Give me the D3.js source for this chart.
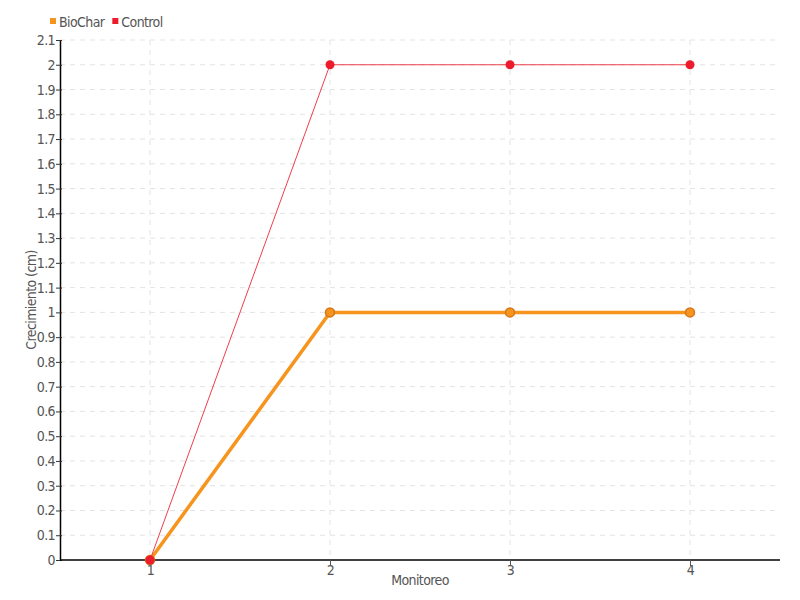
<!DOCTYPE html>
<html><head><meta charset="utf-8">
<script src="https://cdn.jsdelivr.net/npm/d3@7"></script>
<style>
body{margin:0;background:#fff;}
text{font-family:"DejaVu Sans Condensed","Liberation Sans Narrow","Roboto",sans-serif;letter-spacing:-0.6px;}
</style></head>
<body><svg id="c" width="800" height="600"></svg>
<script>
const categories = ["1","2","3","4"];
const seriesNames = ["BioChar","Control"];
const biocharValues = [0,1,1,1];
const controlValues = [0,2,2,2];
const yTicks = [0,0.1,0.2,0.3,0.4,0.5,0.6,0.7,0.8,0.9,1,1.1,1.2,1.3,1.4,1.5,1.6,1.7,1.8,1.9,2,2.1];
const colors = {BioChar:"#f7941d", Control:"#ec1c2c"};

const svg = d3.select("#c");
const m = {l:60, r:20, t:40, b:40};
const W = 800, H = 600;
const x = d3.scalePoint().domain(categories).range([m.l, W-m.r]).padding(0.5);
const y = d3.scaleLinear().domain([0,2.1]).range([H-m.b, m.t]);

// grid
svg.append("g").selectAll("line").data(yTicks.slice(1)).join("line")
  .attr("x1", m.l).attr("x2", W-m.r).attr("y1", d=>y(d)).attr("y2", d=>y(d))
  .attr("stroke","#e3e3e3").attr("stroke-dasharray","5,5");
svg.append("g").selectAll("line").data(categories).join("line")
  .attr("x1", d=>x(d)).attr("x2", d=>x(d)).attr("y1", m.t).attr("y2", H-m.b)
  .attr("stroke","#e3e3e3").attr("stroke-dasharray","5,5");

// axes
const yAxis = svg.append("g").attr("transform",`translate(${m.l},0)`)
  .call(d3.axisLeft(y).tickValues(yTicks).tickFormat(d=>String(+d.toFixed(1))).tickSize(4).tickSizeOuter(0));
yAxis.select(".domain").attr("stroke","#000").attr("stroke-width",1.5);
yAxis.selectAll(".tick line").attr("stroke","#333").attr("x2",-4).attr("x1",2);
yAxis.selectAll(".tick text").attr("fill","#555").style("font-size","14px").attr("x",-5);

const xAxis = svg.append("g").attr("transform",`translate(0,${H-m.b})`)
  .call(d3.axisBottom(x).tickSize(6).tickSizeOuter(0));
xAxis.select(".domain").attr("stroke","#000").attr("stroke-width",1.5).attr("d",`M${m.l},0H${W-m.r}`);
xAxis.selectAll(".tick line").attr("stroke","#555");
xAxis.selectAll(".tick text").attr("fill","#555").style("font-size","14px").attr("y",5);

// labels
svg.append("text").attr("x", (m.l+W-m.r)/2).attr("y", 585).attr("text-anchor","middle")
  .attr("fill","#555").style("font-size","14px").text("Monitoreo");
svg.append("text").attr("transform",`translate(36,${(m.t+H-m.b)/2}) rotate(-90)`).attr("text-anchor","middle")
  .attr("fill","#555").style("font-size","14px").text("Crecimiento (cm)");

// lines
const line = d3.line().x((d,i)=>x(categories[i])).y(d=>y(d));
svg.append("path").datum(biocharValues).attr("d", line).attr("fill","none")
  .attr("stroke", colors.BioChar).attr("stroke-width",3.5);
svg.selectAll(".pb").data(biocharValues).join("circle")
  .attr("cx",(d,i)=>x(categories[i])).attr("cy",d=>y(d)).attr("r",4.5)
  .attr("fill", colors.BioChar).attr("stroke","#d4761a").attr("stroke-width",1.5);
svg.append("path").datum(controlValues).attr("d", line).attr("fill","none")
  .attr("stroke", colors.Control).attr("stroke-width",1).attr("stroke-opacity",0.85);
svg.selectAll(".pc").data(controlValues).join("circle")
  .attr("cx",(d,i)=>x(categories[i])).attr("cy",d=>y(d)).attr("r",4.5)
  .attr("fill", colors.Control);

// legend
const lg = svg.append("g");
let lx = 50;
seriesNames.forEach(n=>{
  lg.append("rect").attr("x",lx).attr("y",18).attr("width",6).attr("height",6).attr("fill",colors[n]);
  const t = lg.append("text").attr("x",lx+9).attr("y",26.5).attr("fill","#555").style("font-size","14px").text(n);
  lx += 9 + t.node().getComputedTextLength() + 8;
});
</script></body></html>
